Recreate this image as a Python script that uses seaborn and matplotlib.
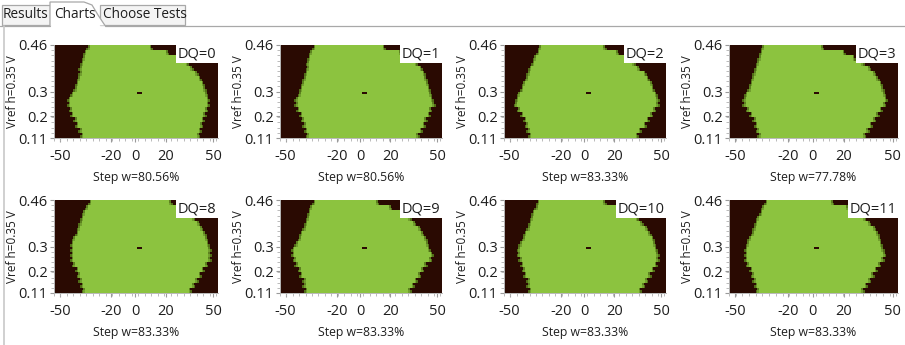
import numpy as np
import pandas as pd
import matplotlib
matplotlib.use("Agg")
import matplotlib.pyplot as plt
import seaborn as sns
from matplotlib.colors import LinearSegmentedColormap
from matplotlib.patches import Rectangle, Polygon

# ---------------- data ----------------
tab_names = ["Results", "Charts", "Choose Tests"]
dq_labels = ["DQ=0", "DQ=1", "DQ=2", "DQ=3", "DQ=8", "DQ=9", "DQ=10", "DQ=11"]
width_labels = ["Step w=80.56%", "Step w=80.56%", "Step w=83.33%", "Step w=77.78%",
                "Step w=83.33%", "Step w=83.33%", "Step w=83.33%", "Step w=83.33%"]
y_label = "Vref h=0.35 V"
x_tick_labels = ["-50", "-20", "0", "20", "50"]
y_tick_labels = ["0.46", "0.3", "0.2", "0.11"]

steps = np.arange(-50, 51)                         # Step axis (columns)
vref = np.round(np.arange(0.46, 0.105, -0.01), 2)  # Vref axis (rows, top to bottom)

# green (pass) region edges, read per 0.02 V band from top (0.46) to bottom (0.11)
dq0_left = [-28, -30, -31, -32, -33, -33, -34, -35, -36, -38, -40, -40, -39, -38, -36, -35, -33, -32]
dq0_right = [8, 18, 25, 30, 33, 36, 38, 40, 41, 42, 43, 43, 42, 41, 40, 39, 38, 37]
dq1_left = [-28, -30, -31, -32, -32, -33, -34, -35, -36, -37, -39, -39, -38, -36, -35, -34, -33, -32]
dq1_right = [13, 23, 30, 33, 36, 38, 39, 40, 41, 42, 43, 44, 42, 41, 39, 38, 36, 34]
dq2_left = [-27, -28, -30, -31, -33, -34, -35, -37, -38, -40, -41, -42, -40, -38, -36, -35, -34, -33]
dq2_right = [11, 19, 25, 29, 32, 36, 38, 40, 41, 43, 44, 44, 42, 40, 38, 36, 33, 31]
dq3_left = [-29, -30, -31, -32, -33, -34, -35, -36, -37, -39, -40, -40, -38, -36, -34, -33, -32, -31]
dq3_right = [4, 17, 23, 28, 32, 35, 37, 39, 40, 41, 42, 41, 39, 37, 35, 33, 31, 29]
dq8_left = [-27, -29, -31, -32, -33, -34, -35, -37, -38, -38, -38, -38, -37, -35, -34, -33, -32, -31]
dq8_right = [20, 27, 31, 34, 37, 39, 41, 42, 43, 44, 44, 44, 42, 40, 38, 36, 34, 32]
dq9_left = [-28, -30, -31, -32, -33, -34, -36, -37, -39, -41, -41, -40, -39, -37, -36, -34, -34, -33]
dq9_right = [9, 17, 24, 29, 32, 35, 37, 39, 40, 41, 43, 42, 39, 37, 35, 33, 31, 29]
dq10_left = [-28, -29, -31, -32, -33, -34, -36, -37, -39, -40, -40, -39, -38, -37, -36, -34, -34, -33]
dq10_right = [11, 20, 27, 31, 34, 37, 39, 41, 42, 43, 44, 44, 43, 41, 39, 37, 35, 33]
dq11_left = [-27, -29, -30, -32, -33, -34, -35, -37, -38, -39, -39, -39, -38, -36, -35, -34, -33, -32]
dq11_right = [10, 19, 25, 29, 32, 35, 37, 38, 39, 40, 41, 40, 38, 36, 34, 32, 30, 28]

left_edges = [dq0_left, dq1_left, dq2_left, dq3_left, dq8_left, dq9_left, dq10_left, dq11_left]
right_edges = [dq0_right, dq1_right, dq2_right, dq3_right, dq8_right, dq9_right, dq10_right, dq11_right]

center_step = 2
center_vref = 0.28

# ---------------- styling ----------------
W, H = 905, 345
DARK = "#2a0a02"
GREEN = "#8cc33f"
cmap = LinearSegmentedColormap.from_list("eye", [DARK, "#4f6a16", "#78a832", GREEN])
FONT = ["Open Sans", "DejaVu Sans"]
TXT = "#1e1e1e"

sns.set_theme(style="white")
plt.rcParams["font.family"] = FONT

fig = plt.figure(figsize=(W / 100, H / 100), dpi=100)
fig.patch.set_facecolor("white")

# overlay in pixel coordinates for the window chrome
ov = fig.add_axes([0, 0, 1, 1])
ov.set_xlim(0, W)
ov.set_ylim(H, 0)
ov.axis("off")
ov.patch.set_alpha(0)
edge = "#a8a8a8"
ov.add_patch(Rectangle((2, 5), 48, 20, facecolor="#f4f4f4", edgecolor=edge, lw=0.9))
ov.add_patch(Rectangle((100, 5), 85, 20, facecolor="#f4f4f4", edgecolor=edge, lw=0.9))
ov.add_patch(Polygon([(50, 25.5), (50, 2), (84, 2), (92, 5), (98, 15), (105, 25.5)],
                     closed=False, facecolor="white", edgecolor=edge, lw=0.9))
ov.plot([0, 50], [25.5, 25.5], color=edge, lw=0.9)
ov.plot([105, W], [25.5, 25.5], color=edge, lw=0.9)
ov.plot([3.5, 3.5], [25.5, H], color="#c8c8c8", lw=1.2)
tab_x = [25, 75, 145]
for name, tx in zip(tab_names, tab_x):
    ov.text(tx, 15, name, ha="center", va="center", fontsize=9.8, color=TXT, family=FONT)

cols_px = [(54, 218), (280, 442), (504, 666), (729, 898)]
rows_px = [(45, 138), (200, 293)]


def eye_matrix(left, right):
    L = np.repeat(left, 2)
    R = np.repeat(right, 2)
    M = np.zeros((len(vref), len(steps)))
    for i in range(len(vref)):
        M[i, (steps >= L[i]) & (steps <= R[i])] = 1.0
        fuzz = [(1, 0.62), (2, 0.35)] if i % 2 else [(1, 0.45)]
        for k, v in fuzz:
            M[i, steps == L[i] - k] = v
            M[i, steps == R[i] + k] = v
    dot = (np.abs(vref - center_vref) < 0.005)[:, None] & (np.abs(steps - center_step) <= 1)[None, :]
    M[dot] = 0.0
    return pd.DataFrame(M, index=vref, columns=steps)


x_frac = [0.035, 0.35, 0.495, 0.68, 0.97]
y_frac_top = [0.0, 0.5, 0.768, 1.0]

for p in range(8):
    r, c = divmod(p, 4)
    x0, x1 = cols_px[c]
    y0, y1 = rows_px[r]
    ax = fig.add_axes([x0 / W, 1 - y1 / H, (x1 - x0) / W, (y1 - y0) / H])
    df = eye_matrix(left_edges[p], right_edges[p])
    sns.heatmap(df, ax=ax, cmap=cmap, vmin=0, vmax=1, cbar=False,
                xticklabels=False, yticklabels=False, rasterized=True)
    nx, ny = len(steps), len(vref)
    ax.set_xlim(0, nx)
    ax.set_ylim(ny, 0)
    ax.set_xticks([f * nx for f in x_frac])
    ax.set_xticklabels(x_tick_labels)
    ax.set_yticks([f * ny for f in y_frac_top])
    ax.set_yticklabels(y_tick_labels)
    ax.set_xticks(np.arange(0, nx + 1, 4), minor=True)
    ax.set_yticks(np.arange(0, ny + 1, 2), minor=True)
    ax.tick_params(axis="both", which="major", length=3, width=0.8, color="#9a9a9a",
                   labelsize=10.5, labelcolor=TXT, bottom=True, left=True)
    ax.tick_params(axis="x", which="major", pad=5)
    ax.tick_params(axis="y", which="major", pad=1.5)
    ax.tick_params(axis="both", which="minor", length=2, width=0.6, color="#b0b0b0",
                   bottom=True, left=True)
    for lbl in ax.get_xticklabels() + ax.get_yticklabels():
        lbl.set_family(FONT)
    for s in ["top", "right"]:
        ax.spines[s].set_visible(False)
    for s in ["bottom", "left"]:
        ax.spines[s].set_visible(True)
        ax.spines[s].set_color("#b8b8b8")
        ax.spines[s].set_linewidth(0.7)
    ax.set_xlabel(width_labels[p], fontsize=8.8, color=TXT, family=FONT)
    ax.set_ylabel(y_label, fontsize=8.5, color=TXT, family=FONT)
    ax.yaxis.set_label_coords(-35.0 / (x1 - x0), 0.5)
    ax.xaxis.set_label_coords(0.5, -33.0 / (y1 - y0))
    ax.text(0.99, 0.985, dq_labels[p], transform=ax.transAxes, ha="right", va="top",
            fontsize=10.5, color=TXT, family=FONT,
            bbox=dict(boxstyle="square,pad=0.12", facecolor="white", edgecolor="none"))

fig.savefig("out.png", dpi=100)
